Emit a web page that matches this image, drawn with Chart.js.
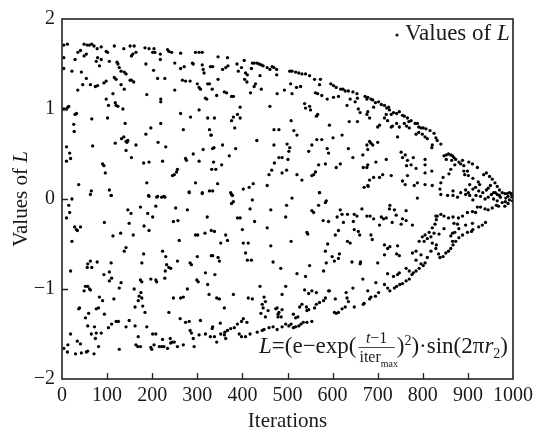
<!DOCTYPE html>
<html>
<head>
<meta charset="utf-8">
<script src="https://cdn.jsdelivr.net/npm/chart.js@4.4.1/dist/chart.umd.min.js"></script>
<style>
  html, body { margin: 0; padding: 0; background: #fff; }
  #wrap { width: 538px; height: 433px; position: relative; }
</style>
</head>
<body>
<div id="wrap"><canvas id="scatter"></canvas></div>
<script>
// Values of L over the iterations as [t, L] pairs
const xRange = [0, 1000];
const yRange = [-2, 2];
const xStep = 100;
const yStep = 1;
const xTitle = 'Iterations';
const yTitle = 'Values of ';
const legendLabel = 'Values of ';

const upperEarly = [
  [4,1.71],[12,1.72],[49,1.72],[56,1.71],[61,1.71],[66,1.72],[71,1.70],[78,1.67],[87,1.69],[98,1.64],[101,1.63],[116,1.70],
  [137,1.67],[151,1.70],[160,1.70],[184,1.68],[193,1.67],[201,1.63],[204,1.67],[206,1.63],[218,1.61],[234,1.66],[237,1.64],
  [243,1.63],[263,1.62],[296,1.63],[304,1.63],[311,1.63],[35,1.63],[41,1.65],[49,1.59],[54,1.61],[29,1.55],[79,1.57],[76,1.53],
  [87,1.55],[105,1.53],[122,1.52],[124,1.50],[127,1.46],[131,1.42],[138,1.41],[142,1.39],[83,1.48],[4,1.57],[4,1.45],[22,1.42],
  [43,1.41],[54,1.34],[63,1.27],[46,1.27],[35,1.21],[74,1.25],[79,1.26],[98,1.31],[93,1.29],[116,1.35],[120,1.33],[131,1.27],
  [138,1.22],[154,1.32],[159,1.30],[154,1.59],[157,1.61],[164,1.63],[186,1.50],[203,1.43],[212,1.34],[218,1.55],[228,1.34],
  [250,1.51],[263,1.45],[271,1.47],[267,1.32],[274,1.31],[284,1.31],[289,1.51],[291,1.50],[311,1.49],[313,1.44],[315,1.40],
  [329,1.47],[300,1.28],[304,1.24],[307,1.22],[323,1.28],[327,1.28],[318,1.12],[321,1.11],[333,1.22],[250,1.21],[219,1.11],
  [219,1.08],[188,1.16],[151,1.32],[113,1.17],[98,1.11],[103,1.04],[118,1.07],[120,1.04],[124,1.03],[135,1.00],[4,1.00],
  [10,1.00],[13,1.02],[15,1.03],[29,0.94],[32,0.95],[26,0.83],[27,0.75],[66,0.89],[101,0.90],[140,0.84],[197,0.79],[186,0.72],
  [219,0.84],[263,0.95],[285,0.91],[269,0.77],[304,0.99],[323,0.90],[327,0.77],[331,0.71],[313,0.55],[291,0.50],[337,0.57],
  [332,0.33],[304,0.42],[137,0.69],[132,0.67],[142,0.64],[146,0.65],[144,0.63],[142,0.54],[154,0.46],[164,0.60],[118,0.62],
  [68,0.59],[10,0.58],[17,0.51],[19,0.45],[10,0.42],[90,0.39],[93,0.37],[96,0.29],[181,0.40],[193,0.41],[223,0.42],[213,0.63],
  [230,0.58],[274,0.45],[276,0.43],[256,0.33],[254,0.30],[249,0.27],[245,0.26],[188,0.18],[37,0.16],[65,0.09],[105,0.10],
  [109,0.04],[282,0.08],[296,0.18],[311,0.06],[327,0.09],[193,0.03],[212,0.03],[226,0.03]
];

const lowerEarly = [
  [22,0.00],[15,-0.07],[17,-0.15],[10,-0.21],[28,-0.31],[32,-0.34],[34,-0.35],[41,-0.31],[22,-0.47],[19,-0.80],[63,0.05],
  [109,0.04],[94,-0.26],[113,-0.41],[130,-0.38],[146,-0.12],[153,-0.16],[149,-0.27],[158,-0.40],[138,-0.58],[142,-0.54],
  [174,-0.09],[182,-0.30],[193,-0.35],[190,-0.16],[201,-0.20],[192,0.04],[208,-0.08],[210,0.02],[221,0.02],[228,0.02],
  [252,-0.10],[247,-0.25],[257,-0.24],[260,-0.46],[278,-0.12],[282,0.07],[311,0.07],[322,-0.20],[296,-0.40],[301,-0.40],
  [317,-0.38],[331,-0.35],[57,-0.72],[63,-0.69],[56,-0.76],[66,-0.76],[78,-0.70],[93,-0.84],[105,-0.81],[109,-0.71],
  [110,-0.88],[105,-0.91],[131,-0.93],[127,-0.99],[181,-0.61],[177,-0.71],[160,-1.00],[174,-0.90],[177,-0.92],[197,-0.89],
  [208,-0.90],[210,-0.92],[223,-0.58],[230,-0.64],[232,-0.73],[237,-0.76],[241,-0.77],[229,-0.80],[228,-0.88],[256,-0.69],
  [284,-0.71],[287,-0.73],[300,-0.64],[299,-0.90],[302,-0.92],[318,-0.82],[323,-0.95],[331,-0.63],[326,-1.06],[52,-0.97],
  [49,-1.02],[57,-0.97],[61,-1.00],[63,-1.01],[83,-1.09],[90,-1.13],[115,-1.11],[175,-1.04],[171,-1.08],[177,-1.10],
  [169,-1.13],[179,-1.19],[162,-1.20],[184,-1.26],[247,-1.10],[263,-1.10],[269,-1.09],[278,-1.00],[237,-1.26],[37,-1.22],
  [39,-1.21],[52,-1.32],[59,-1.27],[76,-1.22],[81,-1.21],[94,-1.28],[103,-1.43],[110,-1.39],[120,-1.36],[125,-1.36],
  [57,-1.41],[72,-1.42],[76,-1.49],[87,-1.49],[74,-1.55],[65,-1.50],[142,-1.42],[149,-1.35],[162,-1.41],[188,-1.42],
  [201,-1.50],[208,-1.50],[223,-1.56],[240,-1.55],[245,-1.59],[262,-1.33],[274,-1.37],[282,-1.36],[284,-1.46],[287,-1.49],
  [291,-1.55],[307,-1.35],[304,-1.51],[318,-1.50],[329,-1.53],[333,-1.44],[19,-1.50],[34,-1.58],[41,-1.61],[13,-1.62],
  [4,-1.66],[12,-1.70],[30,-1.72],[43,-1.71],[54,-1.70],[57,-1.69],[71,-1.72],[81,-1.64],[127,-1.67],[169,-1.53],[164,-1.62],
  [168,-1.64],[174,-1.64],[197,-1.65],[199,-1.67],[204,-1.62],[216,-1.64],[221,-1.64],[226,-1.64],[234,-1.66],[241,-1.60],
  [249,-1.59],[256,-1.64],[269,-1.62],[293,-1.64]
];

const upperMid = [
  [346,1.58],[367,1.57],[334,1.47],[356,1.44],[363,1.46],[368,1.48],[388,1.50],[398,1.46],[404,1.54],[391,1.42],[407,1.40],
  [411,1.38],[420,1.45],[422,1.51],[426,1.51],[432,1.51],[437,1.50],[442,1.49],[446,1.48],[455,1.46],[461,1.44],[466,1.47],
  [470,1.46],[476,1.44],[439,1.37],[346,1.33],[405,1.33],[410,1.30],[429,1.28],[426,1.25],[442,1.22],[418,1.18],[476,1.38],
  [505,1.42],[510,1.42],[518,1.41],[525,1.40],[532,1.39],[540,1.39],[549,1.37],[560,1.33],[573,1.33],[571,1.27],[507,1.28],
  [520,1.24],[529,1.25],[510,1.17],[493,1.21],[477,1.17],[562,1.18],[567,1.17],[576,1.15],[588,1.11],[596,1.28],[602,1.26],
  [608,1.24],[618,1.22],[623,1.22],[628,1.20],[635,1.20],[645,1.19],[654,1.17],[655,1.12],[650,1.08],[639,1.11],[672,1.14],
  [676,1.11],[613,1.14],[602,1.13],[632,1.04],[343,1.15],[360,1.19],[365,1.18],[376,1.14],[380,1.14],[395,1.02],[389,0.94],
  [395,0.90],[380,0.91],[376,0.87],[383,0.79],[338,0.90],[461,1.03],[538,1.06],[540,1.01],[549,1.03],[551,0.99],[567,0.94],
  [564,0.92],[657,1.00],[661,0.96],[676,0.94],[637,0.86],[655,0.86],[508,0.87],[593,0.82],[470,0.77],[481,0.77],[514,0.76],
  [521,0.71],[330,0.71],[432,0.65],[356,0.60],[334,0.56],[385,0.56],[371,0.48],[470,0.60],[499,0.61],[505,0.57],[503,0.53],
  [481,0.46],[488,0.46],[501,0.44],[471,0.40],[465,0.32],[459,0.27],[488,0.29],[498,0.32],[547,0.53],[554,0.60],[565,0.66],
  [576,0.66],[588,0.56],[591,0.51],[601,0.68],[621,0.71],[635,0.56],[645,0.46],[667,0.49],[676,0.60],[682,0.64],[569,0.38],
  [562,0.30],[558,0.27],[554,0.26],[521,0.27],[532,0.21],[584,0.39],[608,0.35],[617,0.39],[668,0.35],[676,0.35],[682,0.21],
  [670,0.13],[679,0.14],[336,0.41],[341,0.33],[354,0.38],[345,0.17],[334,0.09],[374,0.07],[378,0.04],[402,0.11],[415,0.13],
  [424,0.17],[455,0.15],[571,0.07]
];

const lowerMid = [
  [376,0.05],[380,-0.03],[376,-0.05],[422,-0.01],[417,-0.11],[463,-0.12],[498,-0.07],[510,0.01],[496,-0.20],[571,0.07],
  [569,-0.07],[584,-0.04],[586,-0.02],[554,-0.13],[558,-0.15],[617,-0.12],[621,-0.17],[633,-0.17],[648,-0.17],[654,-0.19],
  [665,-0.11],[676,-0.19],[579,-0.24],[591,-0.25],[610,-0.20],[624,-0.26],[646,-0.25],[657,-0.36],[648,-0.34],[660,-0.40],
  [633,-0.47],[639,-0.49],[613,-0.35],[606,-0.40],[589,-0.50],[584,-0.58],[599,-0.64],[604,-0.69],[613,-0.66],[615,-0.61],
  [643,-0.70],[661,-0.72],[662,-0.70],[580,-0.80],[586,-0.71],[543,-0.37],[545,-0.39],[508,-0.47],[463,-0.52],[455,-0.32],
  [427,-0.25],[400,-0.34],[389,-0.21],[395,-0.21],[363,-0.40],[367,-0.46],[352,-0.49],[338,-0.36],[402,-0.49],[413,-0.49],
  [407,-0.60],[411,-0.68],[420,-0.68],[334,-0.63],[346,-0.65],[349,-0.69],[339,-0.84],[468,-0.70],[485,-0.77],[521,-0.83],
  [540,-0.86],[549,-0.74],[496,-0.97],[439,-0.97],[488,-1.06],[538,-1.01],[547,-1.05],[554,-1.02],[564,-1.04],[591,-1.02],
  [593,-1.02],[606,-1.11],[630,-1.04],[632,-1.10],[645,-0.99],[635,-1.14],[648,-1.20],[667,-0.89],[668,-1.17],[670,-1.16],
  [343,-1.10],[349,-1.11],[360,-1.21],[380,-1.06],[413,-1.10],[422,-1.11],[448,-1.09],[451,-1.14],[444,-1.17],[446,-1.21],
  [457,-1.24],[474,-1.22],[477,-1.21],[481,-1.26],[488,-1.23],[479,-1.28],[479,-1.31],[486,-1.31],[441,-1.27],[451,-1.31],
  [527,-1.20],[532,-1.17],[542,-1.20],[543,-1.24],[547,-1.23],[560,-1.21],[564,-1.17],[571,-1.15],[580,-1.13],[584,-1.10],
  [604,-1.26],[608,-1.27],[613,-1.26],[621,-1.22],[628,-1.20],[513,-1.28],[518,-1.32],[523,-1.31],[508,-1.39],[503,-1.41],
  [496,-1.39],[488,-1.42],[477,-1.45],[468,-1.42],[459,-1.43],[448,-1.45],[444,-1.46],[433,-1.48],[513,-1.43],[518,-1.42],
  [525,-1.41],[530,-1.39],[535,-1.37],[543,-1.37],[554,-1.36],[402,-1.33],[410,-1.37],[398,-1.36],[389,-1.39],[382,-1.43],
  [374,-1.44],[367,-1.46],[361,-1.48],[352,-1.50],[351,-1.38],[334,-1.42],[338,-1.53],[343,-1.59],[360,-1.51],[363,-1.55],
  [393,-1.50],[398,-1.53],[407,-1.53],[417,-1.50]
];

const upperLate = [
  [678,1.13],[685,1.11],[689,1.10],[695,1.07],[691,1.02],[702,1.08],[708,1.05],[715,1.04],[720,1.01],[724,1.02],[726,0.99],
  [719,0.94],[715,0.90],[722,0.87],[730,0.94],[735,0.96],[742,0.95],[748,0.97],[755,0.93],[759,0.92],[766,0.90],[769,0.86],
  [774,0.87],[783,0.84],[788,0.84],[791,0.80],[796,0.79],[801,0.79],[807,0.78],[816,0.76],[825,0.73],[829,0.68],[832,0.65],
  [840,0.61],[678,0.97],[682,0.90],[700,0.80],[704,0.82],[730,0.80],[733,0.81],[742,0.84],[748,0.80],[759,0.84],[764,0.81],
  [770,0.79],[785,0.72],[791,0.74],[799,0.72],[805,0.69],[810,0.67],[744,0.69],[685,0.62],[689,0.60],[700,0.63],[678,0.55],
  [696,0.41],[719,0.44],[752,0.52],[755,0.46],[761,0.49],[766,0.43],[779,0.46],[774,0.38],[764,0.37],[785,0.34],[821,0.60],
  [820,0.57],[805,0.44],[805,0.38],[820,0.31],[805,0.29],[847,0.48],[852,0.49],[857,0.50],[862,0.49],[866,0.48],[869,0.46],
  [873,0.44],[880,0.41],[884,0.39],[891,0.37],[899,0.31],[852,0.44],[864,0.43],[871,0.38],[888,0.43],[902,0.41],[910,0.39],
  [921,0.35],[891,0.31],[893,0.27],[901,0.26],[911,0.23],[923,0.19],[904,0.16],[917,0.13],[926,0.16],[935,0.27],[941,0.29],
  [948,0.25],[954,0.22],[960,0.18],[965,0.14],[970,0.10],[976,0.07],[982,0.06],[987,0.06],[996,0.06],[998,0.04],[862,0.33],
  [858,0.28],[845,0.24],[840,0.18],[838,0.11],[821,0.15],[805,0.16],[788,0.18],[781,0.15],[766,0.26],[755,0.20],[761,0.16],
  [730,0.26],[711,0.27],[678,0.15],[691,0.24],[867,0.09],[884,0.07],[895,0.10],[901,0.07],[911,0.11],[924,0.09],[933,0.07],
  [941,0.10],[945,0.12],[950,0.15],[957,0.07],[965,0.05],[678,0.38],[704,0.24]
];

const lowerLate = [
  [788,0.01],[840,0.05],[855,0.04],[867,0.04],[877,0.02],[895,0.05],[904,0.04],[911,-0.01],[918,0.04],[928,0.03],[938,0.00],
  [945,0.02],[952,0.05],[957,0.00],[965,-0.02],[972,0.02],[976,-0.04],[983,-0.03],[992,-0.01],[998,0.02],[999,-0.02],
  [989,-0.05],[982,-0.08],[968,-0.08],[963,-0.07],[954,-0.10],[945,-0.12],[938,-0.11],[928,-0.09],[921,-0.09],[917,-0.15],
  [910,-0.14],[899,-0.15],[888,-0.19],[879,-0.21],[867,-0.20],[857,-0.21],[847,-0.19],[840,-0.17],[832,-0.19],[829,-0.19],
  [830,-0.23],[827,-0.28],[821,-0.32],[814,-0.37],[805,-0.40],[799,-0.42],[792,-0.47],[869,-0.27],[877,-0.28],[871,-0.37],
  [866,-0.38],[862,-0.41],[866,-0.47],[873,-0.47],[867,-0.51],[862,-0.55],[857,-0.58],[851,-0.60],[845,-0.64],[838,-0.65],
  [835,-0.61],[829,-0.55],[830,-0.51],[821,-0.49],[818,-0.58],[810,-0.65],[805,-0.71],[801,-0.74],[796,-0.72],[792,-0.77],
  [785,-0.80],[779,-0.82],[776,-0.84],[770,-0.89],[763,-0.91],[755,-0.94],[749,-0.95],[742,-0.97],[737,-0.99],[727,-1.02],
  [722,-0.99],[715,-0.95],[696,-0.93],[702,-1.04],[695,-1.08],[685,-1.09],[682,-1.11],[678,-1.02],[847,-0.33],[836,-0.39],
  [825,-0.38],[818,-0.42],[880,-0.43],[888,-0.40],[899,-0.37],[908,-0.36],[911,-0.34],[924,-0.31],[932,-0.29],[939,-0.26],
  [880,-0.33],[895,-0.29],[910,-0.27],[763,-0.13],[755,-0.22],[752,-0.28],[777,-0.29],[763,-0.24],[741,-0.18],[737,-0.12],
  [732,-0.26],[719,-0.21],[713,-0.22],[708,-0.20],[726,-0.11],[727,-0.07],[683,-0.19],[691,-0.22],[685,-0.40],[688,-0.45],
  [704,-0.29],[715,-0.51],[722,-0.55],[727,-0.53],[742,-0.61],[748,-0.63],[744,-0.52],[700,-0.71],[715,-0.62],[722,-0.83],
  [735,-0.86],[744,-0.84],[748,-0.82],[763,-0.77],[770,-0.80],[785,-0.58],[777,-0.60],[785,-0.68],[796,-0.62],[803,-0.47],
  [810,-0.44],[992,0.07],[998,0.05],[989,0.03],[984,0.01],[970,0.04],[961,0.07]
];

const serif = "'Liberation Serif', 'Times New Roman', serif";
const ink = '#1a1a1a';

const allPoints = [upperEarly, lowerEarly, upperMid, lowerMid, upperLate, lowerLate]
  .flat()
  .map(([t, l]) => ({ x: t, y: l }));

// box round the plot with inward ticks
const framePlugin = {
  id: 'frame',
  afterDatasetsDraw(chart) {
    const { ctx, chartArea: a, scales: { x, y } } = chart;
    ctx.save();
    ctx.strokeStyle = '#222';
    ctx.lineWidth = 1.6;
    ctx.strokeRect(a.left, a.top, a.right - a.left, a.bottom - a.top);
    ctx.lineWidth = 1.3;
    ctx.beginPath();
    x.ticks.forEach((tick) => {
      if (tick.value <= xRange[0] || tick.value >= xRange[1]) return;
      const px = Math.round(x.getPixelForValue(tick.value)) + 0.5;
      ctx.moveTo(px, a.bottom);
      ctx.lineTo(px, a.bottom - 6);
    });
    y.ticks.forEach((tick) => {
      if (tick.value <= yRange[0] || tick.value >= yRange[1]) return;
      const py = Math.round(y.getPixelForValue(tick.value)) + 0.5;
      ctx.moveTo(a.left, py);
      ctx.lineTo(a.left + 6, py);
    });
    ctx.stroke();
    ctx.restore();
  }
};

// draws a run of text pieces, each with its own font and vertical shift
function drawRun(ctx, pieces, x, baseline) {
  let cx = x;
  pieces.forEach((p) => {
    ctx.font = p.font;
    if (p.draw) {
      p.draw(ctx, cx, baseline);
    } else {
      ctx.fillText(p.text, cx, baseline + (p.dy || 0));
    }
    cx += p.width != null ? p.width : ctx.measureText(p.text).width;
  });
  return cx - x;
}

function runWidth(ctx, pieces) {
  let w = 0;
  pieces.forEach((p) => {
    ctx.font = p.font;
    w += p.width != null ? p.width : ctx.measureText(p.text).width;
  });
  return w;
}

const annotationPlugin = {
  id: 'annotations',
  afterDraw(chart) {
    const { ctx, chartArea: a } = chart;
    ctx.save();
    ctx.fillStyle = ink;
    ctx.textAlign = 'left';
    ctx.textBaseline = 'alphabetic';

    // legend in the top right corner
    ctx.beginPath();
    ctx.arc(a.right - 116, a.top + 16, 1.6, 0, Math.PI * 2);
    ctx.fill();
    drawRun(ctx, [
      { text: legendLabel, font: `23px ${serif}` },
      { text: 'L', font: `italic 23px ${serif}` }
    ], a.right - 108, a.top + 21);

    // formula in the bottom right corner
    ctx.font = `16px ${serif}`;
    const numW = ctx.measureText('t−1').width;
    const denW = ctx.measureText('iter').width + 13;
    const fracW = Math.max(numW, denW) + 6;
    const fraction = {
      font: `16px ${serif}`,
      width: fracW,
      draw(c, fx, base) {
        const mid = fx + fracW / 2;
        c.font = `italic 16px ${serif}`;
        const tW = c.measureText('t').width;
        c.font = `16px ${serif}`;
        const restW = c.measureText('−1').width;
        const nx = mid - (tW + restW) / 2;
        c.font = `italic 16px ${serif}`;
        c.fillText('t', nx, base - 10);
        c.font = `16px ${serif}`;
        c.fillText('−1', nx + tW, base - 10);
        c.fillRect(fx + 2, base - 6, fracW - 4, 0.8);
        const iW = c.measureText('iter').width;
        const dx = mid - (iW + 13) / 2;
        c.fillText('iter', dx, base + 9);
        c.font = `10px ${serif}`;
        c.fillText('max', dx + iW, base + 14);
      }
    };
    const formula = [
      { text: 'L', font: `italic 23px ${serif}` },
      { text: '=(e−exp(', font: `23px ${serif}` },
      fraction,
      { text: ')', font: `23px ${serif}` },
      { text: '2', font: `14px ${serif}`, dy: -8 },
      { text: ')·sin(2π', font: `23px ${serif}` },
      { text: 'r', font: `italic 23px ${serif}` },
      { text: '2', font: `14px ${serif}`, dy: 5 },
      { text: ')', font: `23px ${serif}` }
    ];
    const fw = runWidth(ctx, formula);
    drawRun(ctx, formula, a.right - 5 - fw, a.bottom - 26);

    // y axis title, rotated
    const yPieces = [
      { text: yTitle, font: `21px ${serif}` },
      { text: 'L', font: `italic 21px ${serif}` }
    ];
    const yw = runWidth(ctx, yPieces);
    ctx.translate(27, (a.top + a.bottom) / 2);
    ctx.rotate(-Math.PI / 2);
    drawRun(ctx, yPieces, -yw / 2, 0);
    ctx.restore();
  }
};

new Chart(document.getElementById('scatter'), {
  type: 'scatter',
  data: {
    datasets: [{
      label: 'Values of L',
      data: allPoints,
      backgroundColor: '#000',
      borderWidth: 0,
      pointRadius: 1.65,
      pointHoverRadius: 1.65
    }]
  },
  options: {
    responsive: true,
    maintainAspectRatio: false,
    animation: false,
    layout: { padding: { top: 14, right: 21, left: 0, bottom: 0 } },
    plugins: {
      legend: { display: false },
      tooltip: { enabled: false }
    },
    scales: {
      x: {
        type: 'linear',
        min: xRange[0],
        max: xRange[1],
        grid: { display: false, drawTicks: false },
        border: { display: false },
        ticks: {
          stepSize: xStep,
          padding: 5,
          color: ink,
          maxRotation: 0,
          autoSkip: false,
          font: { family: serif, size: 20 },
          callback: (value) => String(value)
        },
        title: {
          display: true,
          text: xTitle,
          color: ink,
          font: { family: serif, size: 21, lineHeight: 1 },
          padding: { top: 0, bottom: 1 }
        },
        afterFit: (scale) => { scale.height = 54; }
      },
      y: {
        type: 'linear',
        min: yRange[0],
        max: yRange[1],
        grid: { display: false, drawTicks: false },
        border: { display: false },
        ticks: {
          stepSize: yStep,
          padding: 7,
          color: ink,
          font: { family: serif, size: 20 },
          callback: (value) => String(value).replace('-', '−')
        },
        afterFit: (scale) => { scale.width = 62; }
      }
    }
  },
  plugins: [framePlugin, annotationPlugin]
});
</script>
</body>
</html>
